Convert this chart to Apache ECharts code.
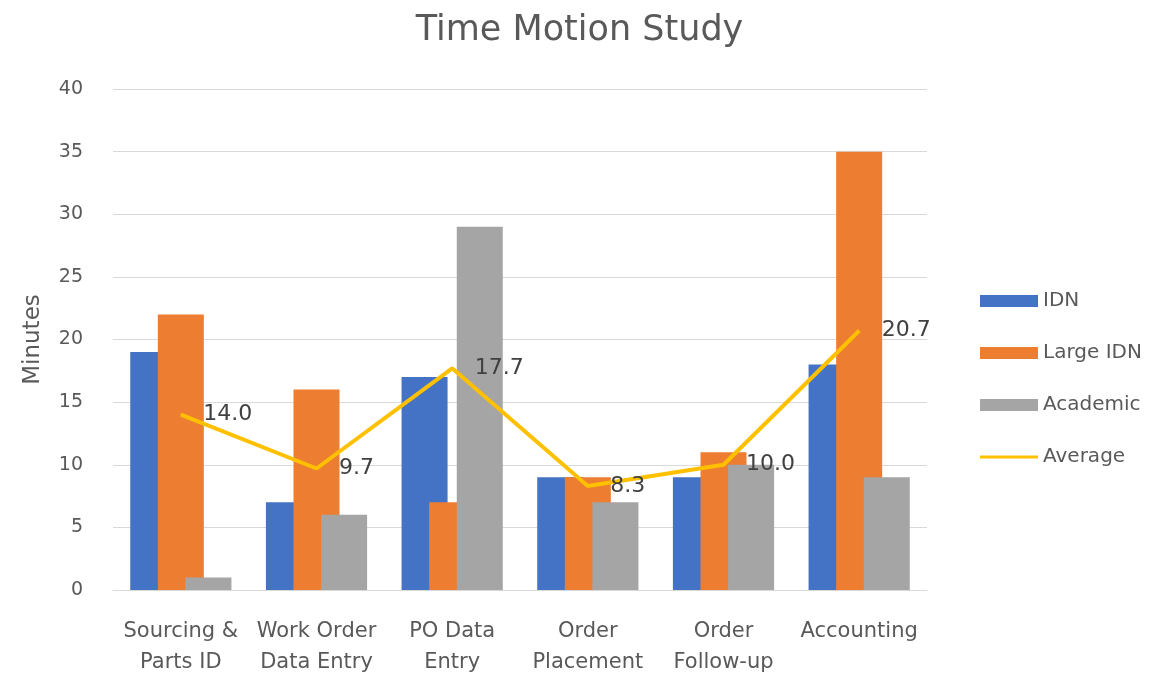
<!DOCTYPE html>
<html>
<head>
<meta charset="utf-8">
<title>Time Motion Study</title>
<script src="https://cdn.jsdelivr.net/npm/echarts@6/dist/echarts.min.js"></script>
<style>
  html, body { margin: 0; padding: 0; background: #fff; }
  #chart { width: 1159px; height: 674px; }
</style>
</head>
<body>
<div id="chart"></div>
<script>
const categories = ['Sourcing &\nParts ID', 'Work Order\nData Entry', 'PO Data\nEntry', 'Order\nPlacement', 'Order\nFollow-up', 'Accounting']
const idn = [19, 7, 17, 9, 9, 18]
const largeIdn = [22, 16, 7, 9, 11, 35]
const academic = [1, 6, 29, 7, 10, 9]
const average = [14.0, 9.7, 17.7, 8.3, 10.0, 20.7]

// the source text is wide, so a wide face fits its extents best
const font = '"DejaVu Sans", Verdana, sans-serif'
const textColor = '#595959'

const chart = echarts.init(document.getElementById('chart'))

const barSeries = (name, data, color) => ({
  name: name,
  type: 'bar',
  data: data,
  barWidth: 46,
  barGap: '-40%',
  itemStyle: { color: color }
})

chart.setOption({
  animation: false,
  textStyle: { fontFamily: font },
  title: {
    text: 'Time Motion Study',
    left: 'center',
    top: 8,
    textStyle: { fontFamily: font, fontSize: 35, fontWeight: 'normal', color: textColor }
  },
  legend: {
    orient: 'vertical',
    left: 975,
    top: 286,
    itemWidth: 58,
    itemHeight: 12,
    itemGap: 32,
    textStyle: { fontFamily: font, fontSize: 20, color: textColor },
    data: [
      { name: 'IDN', icon: 'rect' },
      { name: 'Large IDN', icon: 'rect' },
      { name: 'Academic', icon: 'rect' },
      // thin bar inside a 12px tall box, so it reads as a line
      { name: 'Average', icon: 'path://M0,0L0,0M0,4.5L58,4.5L58,7.5L0,7.5ZM0,12L0,12' }
    ]
  },
  grid: { left: 113, right: 232, top: 89, bottom: 84, outerBoundsMode: 'none' },
  xAxis: {
    type: 'category',
    data: categories,
    axisTick: { show: false },
    axisLine: { lineStyle: { color: '#d9d9d9', width: 1 } },
    axisLabel: {
      interval: 0,
      margin: 26,
      fontFamily: font,
      fontSize: 21,
      lineHeight: 31,
      color: textColor
    }
  },
  yAxis: {
    type: 'value',
    min: 0,
    max: 40,
    interval: 5,
    name: 'Minutes',
    nameLocation: 'middle',
    nameGap: 68,
    nameTextStyle: { fontFamily: font, fontSize: 23, color: textColor },
    axisLine: { show: false },
    axisTick: { show: false },
    axisLabel: { margin: 30, fontFamily: font, fontSize: 19, color: textColor },
    splitLine: { lineStyle: { color: '#d9d9d9', width: 1 } }
  },
  series: [
    barSeries('IDN', idn, '#4472C4'),
    barSeries('Large IDN', largeIdn, '#ED7D31'),
    barSeries('Academic', academic, '#A5A5A5'),
    {
      name: 'Average',
      type: 'line',
      data: average,
      symbol: 'circle',
      symbolSize: 1,
      z: 5,
      lineStyle: { color: '#FFC000', width: 4 },
      itemStyle: { color: '#FFC000' },
      label: {
        show: true,
        position: 'right',
        distance: 22,
        fontFamily: font,
        fontSize: 22,
        color: '#404040',
        formatter: p => p.value.toFixed(1)
      }
    }
  ]
})
</script>
</body>
</html>
